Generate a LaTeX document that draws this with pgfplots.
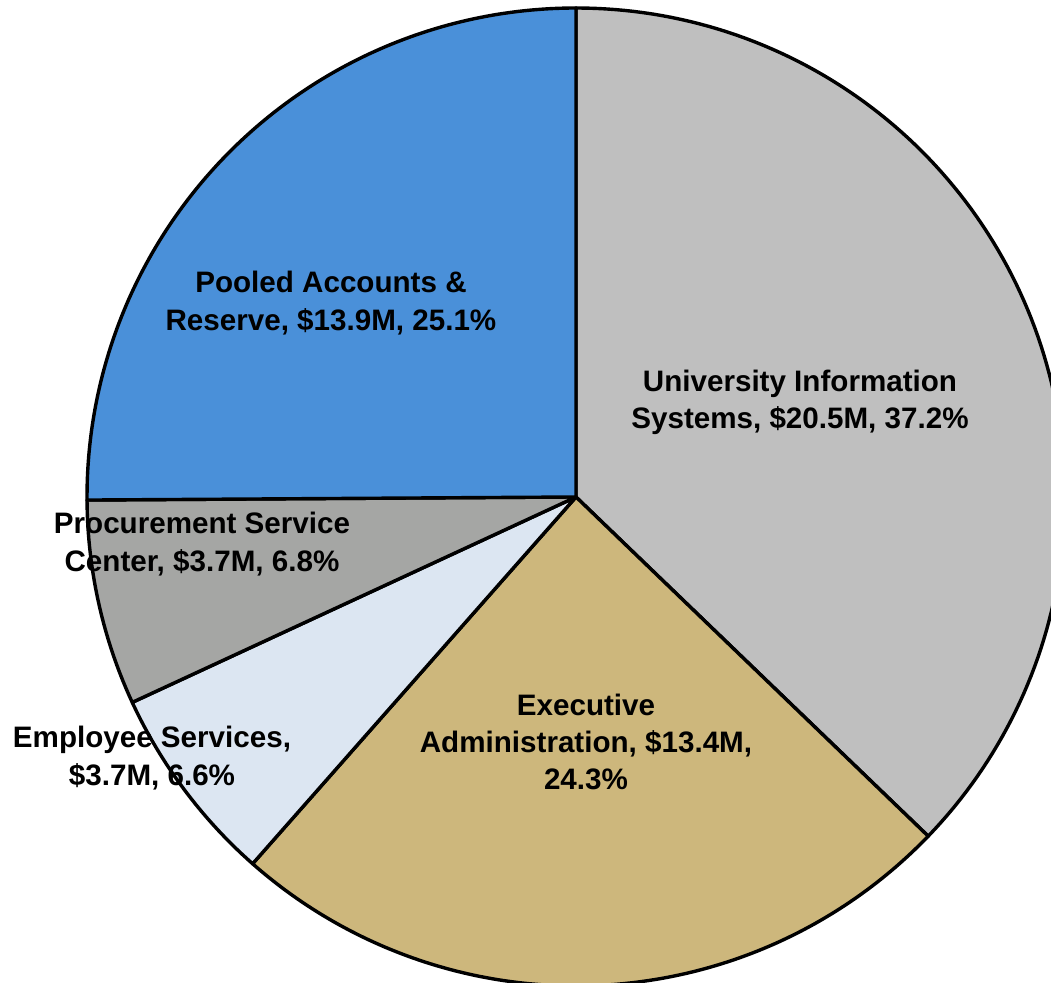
\documentclass[border=0pt]{standalone}
\usepackage{pgfplots}
\pgfplotsset{compat=1.18}
\usepackage{fontspec}
\setmainfont{Liberation Sans}
\definecolor{cUIS}{HTML}{BFBFBF}
\definecolor{cExec}{HTML}{CDB77C}
\definecolor{cEmp}{HTML}{DCE6F2}
\definecolor{cProc}{HTML}{A5A6A4}
\definecolor{cPool}{HTML}{4A90D9}
% shares in percent, clockwise from the top
\def\pUIS{37.2}\def\pExec{24.3}\def\pEmp{6.6}\def\pProc{6.8}\def\pPool{25.1}
\begin{document}
\begin{tikzpicture}
\pgfmathsetmacro{\aA}{90}
\pgfmathsetmacro{\aB}{\aA-3.6*\pUIS}
\pgfmathsetmacro{\aC}{\aB-3.6*\pExec}
\pgfmathsetmacro{\aD}{\aC-3.6*\pEmp}
\pgfmathsetmacro{\aE}{\aD-3.6*\pProc}
\pgfmathsetmacro{\aF}{\aE-3.6*\pPool}
\begin{axis}[
  scale only axis, width=525.5pt, height=491.5pt,
  xmin=0, xmax=1051, ymin=0, ymax=983,
  hide axis, clip=true,
  every axis plot/.append style={draw=black, line width=1.7pt, line join=round, samples=120},
]
\addplot[fill=cUIS, domain=\aB:\aA] ({576+489*cos(x)},{486+489*sin(x)}) -- (576,486) -- cycle;
\addplot[fill=cExec, domain=\aC:\aB] ({576+489*cos(x)},{486+489*sin(x)}) -- (576,486) -- cycle;
\addplot[fill=cEmp, domain=\aD:\aC] ({576+489*cos(x)},{486+489*sin(x)}) -- (576,486) -- cycle;
\addplot[fill=cProc, domain=\aE:\aD] ({576+489*cos(x)},{486+489*sin(x)}) -- (576,486) -- cycle;
\addplot[fill=cPool, domain=\aF:\aE] ({576+489*cos(x)},{486+489*sin(x)}) -- (576,486) -- cycle;
\begin{scope}[every node/.style={align=center, inner sep=0pt, font=\fontsize{14.8}{18.6}\selectfont\bfseries}]
\node at (axis cs:800,581) {University Information\\Systems, \$20.5M, 37.2\%};
\node at (axis cs:586,241) {Executive\\Administration, \$13.4M,\\24.3\%};
\node at (axis cs:152,225) {Employee Services,\\\$3.7M, 6.6\%};
\node at (axis cs:202,439) {Procurement Service\\Center, \$3.7M, 6.8\%};
\node at (axis cs:331,680) {Pooled Accounts \&\\Reserve, \$13.9M, 25.1\%};
\end{scope}
\end{axis}
\pgfresetboundingbox
\useasboundingbox (0,0) rectangle (525.5pt,491.5pt);
\end{tikzpicture}
\end{document}
